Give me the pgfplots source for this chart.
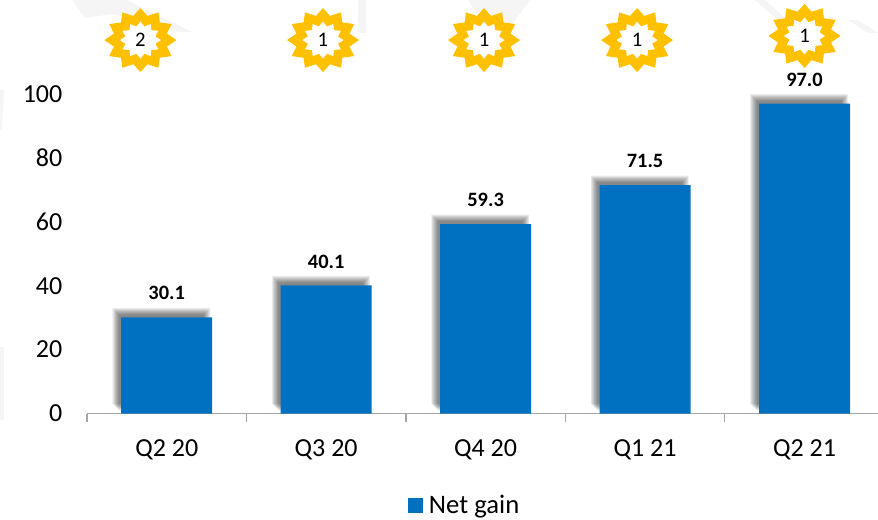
\documentclass[border=0pt]{standalone}
\usepackage{fontspec}
\setmainfont{Carlito}
\usepackage{pgfplots}
\usepackage{pgfplotstable}
\pgfplotsset{compat=1.18}
\definecolor{barblue}{HTML}{0070C0}
\definecolor{sungold}{HTML}{FFC000}
\definecolor{axisgray}{HTML}{A6A6A6}
\definecolor{wmark}{HTML}{F5F5F5}

% 1 px of the reference = 0.75pt
\newcommand{\sunpath}[4]{%
  \pgfpathmoveto{\pgfpoint{0pt}{#2pt}}%
  \foreach \k in {1,...,23}{%
    \pgfmathsetmacro{\a}{90+15*\k}%
    \ifodd\k
      \pgfpathlineto{\pgfpoint{#3*cos(\a)*1pt}{#4*sin(\a)*1pt}}%
    \else
      \pgfpathlineto{\pgfpoint{#1*cos(\a)*1pt}{#2*sin(\a)*1pt}}%
    \fi
  }%
  \pgfpathclose}
\pgfdeclareplotmark{sun}{%
  \pgfsetfillcolor{sungold}%
  \sunpath{27}{24}{20.6}{18.75}%
  \pgfusepathqfill
  \pgfsetfillcolor{white}%
  \sunpath{15.4}{13.9}{11.6}{10.5}%
  \pgfusepathqfill
}

\pgfplotstableread{
x y
0 30.1
1 40.1
2 59.3
3 71.5
4 97.0
}\gain
\pgfplotstableread{
x y n
-0.165 116.9 2
0.98 116.9 1
1.99 116.9 1
2.95 116.9 1
4.0 118.2 1
}\badges

\begin{document}
\begin{tikzpicture}
\useasboundingbox (0pt,0pt) rectangle (658.5pt,389.25pt);
% faint watermark behind the chart
\begin{scope}[x=0.75pt,y=-0.75pt,yshift=389.25pt]
  \fill[wmark] (72,0) -- (127,0) -- (192,32) -- (178,32) -- (112,14) -- (85,18) -- cycle;
  \fill[wmark] (358,0) -- (366,0) -- (366,33) -- (358,33) -- cycle;
  \fill[wmark] (468,0) -- (530,0) -- (512,24) -- (485,26) -- cycle;
  \fill[wmark] (755,0) -- (765,0) -- (790,22) -- (780,22) -- cycle;
  \fill[wmark] (848,20) -- (858,20) -- (878,33) -- (868,33) -- cycle;
  \fill[wmark] (0,347) -- (4,347) -- (4,420) -- (0,420) -- cycle;
  \fill[wmark] (0,90) -- (4,90) -- (2,130) -- (0,130) -- cycle;
\end{scope}
\begin{axis}[
    at={(65.25pt,79.1pt)}, anchor=south west,
    scale only axis,
    width=593.25pt, height=239.6pt,
    clip=false,
    xmin=-0.5, xmax=4.461,
    ymin=0, ymax=100,
    axis y line=left, axis x line=bottom,
    axis line style={draw=axisgray, line width=1pt, -},
    y axis line style={draw=none},
    xtick={0,1,2,3,4},
    xticklabels={Q2 20,Q3 20,Q4 20,Q1 21,Q2 21},
    minor xtick={-0.5,0.5,1.5,2.5,3.5},
    ytick={0,20,40,60,80,100},
    major tick length=0pt,
    minor tick length=6pt,
    minor tick style={draw=axisgray, line width=1pt},
    tick align=outside,
    /pgf/number format/assume math mode=true,
    tick label style={font=\fontsize{19.5}{22}\selectfont, text=black},
    xticklabel style={yshift=-16pt},
    yticklabel style={xshift=-15pt},
    legend style={at={(0.478,-0.288)}, anchor=center, draw=none, fill=none,
      font=\fontsize{20}{22}\selectfont, inner sep=0pt},
    legend image code/.code={\fill[barblue] (0pt,-5.6pt) rectangle (11.25pt,5.6pt);
      \path (13.5pt,0pt);},
    legend cell align=left,
]
% soft shadow up and to the left of each bar
\pgfplotsinvokeforeach{2.6,1.9,1.2,0.5,-0.2,-0.9,-1.6,-2.3}{
  \addplot[ybar, forget plot, bar width=68.25pt+2*#1pt, fill=black, draw=none,
      fill opacity=0.075, xshift=-4pt, yshift=4.5pt+#1pt]
    table[x=x, y=y] {\gain};
}
\addplot[ybar, bar width=68.25pt, fill=barblue, draw=none,
    nodes near coords, point meta=explicit symbolic,
    every node near coord/.style={font=\bfseries\fontsize{15.3}{17}\selectfont, text=black,
      anchor=center, yshift=18pt}]
  table[x=x, y=y, meta=y] {\gain};
\addlegendentry{Net gain}
\addplot[only marks, mark=sun, forget plot,
    nodes near coords, point meta=explicit symbolic,
    every node near coord/.style={font=\fontsize{15.5}{17}\selectfont, text=black, anchor=center}]
  table[x=x, y=y, meta=n] {\badges};
\end{axis}
\end{tikzpicture}
\end{document}
